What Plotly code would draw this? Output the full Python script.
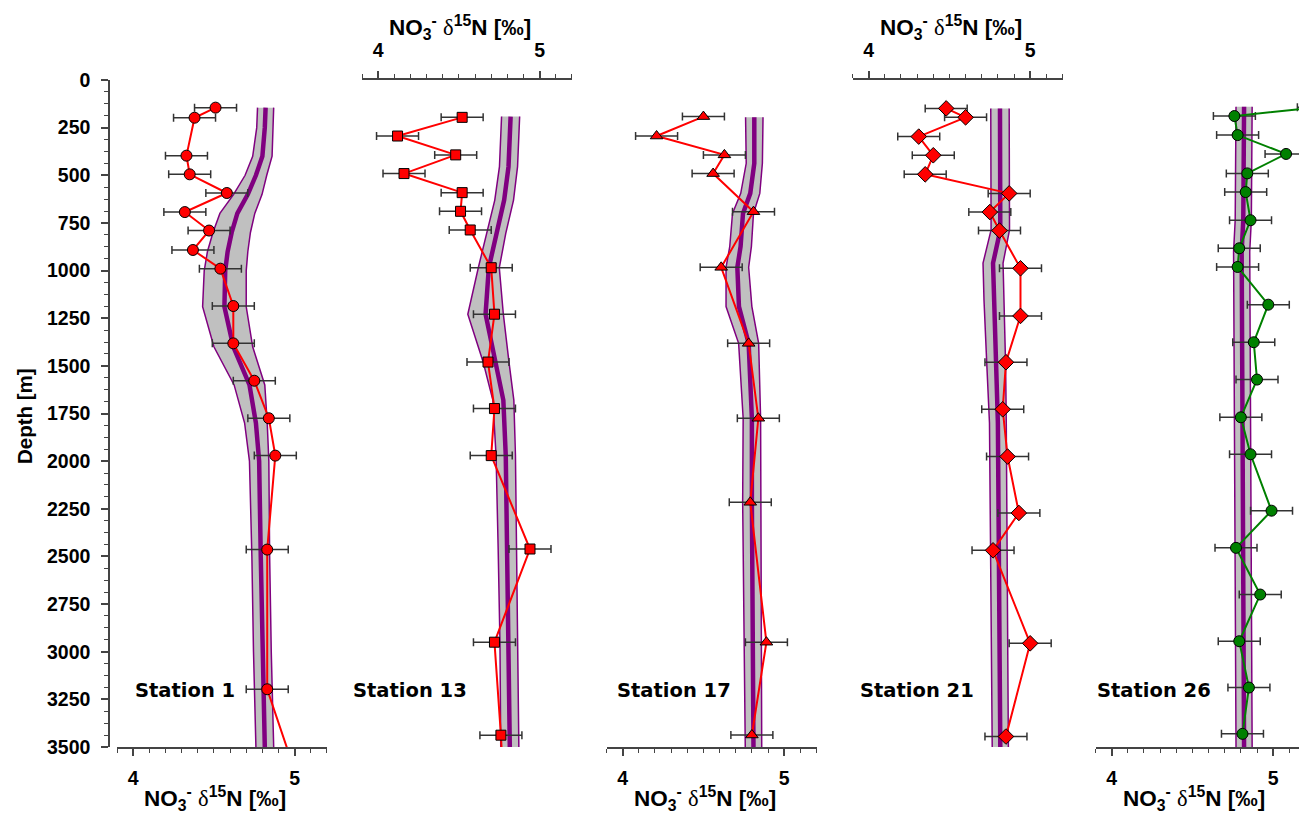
import plotly.graph_objects as go

# ---------------- data ----------------
ERR = 0.13  # +/- error on each measurement (permil)

st1_depth = [145, 198, 397, 495, 593, 693, 790, 892, 990, 1186, 1382, 1578, 1775, 1971, 2464, 3197, 3700]
st1_d15n = [4.51, 4.38, 4.33, 4.35, 4.58, 4.32, 4.47, 4.37, 4.54, 4.62, 4.62, 4.75, 4.84, 4.88, 4.83, 4.83, 5.03]
st1_band_depth = [145, 250, 400, 500, 600, 700, 800, 900, 1000, 1190, 1400, 1600, 1800, 2000, 2500, 3000, 3500]
st1_band_mid = [4.82, 4.815, 4.80, 4.76, 4.71, 4.645, 4.61, 4.585, 4.57, 4.565, 4.62, 4.72, 4.76, 4.78, 4.79, 4.80, 4.815]
st1_band_half = [0.05, 0.05, 0.06, 0.067, 0.088, 0.108, 0.116, 0.125, 0.13, 0.135, 0.12, 0.095, 0.07, 0.06, 0.055, 0.055, 0.055]

st13_depth = [196, 294, 393, 491, 591, 689, 787, 985, 1229, 1480, 1724, 1971, 2461, 2950, 3438, 3600]
st13_d15n = [4.52, 4.12, 4.48, 4.16, 4.52, 4.51, 4.57, 4.70, 4.72, 4.68, 4.72, 4.70, 4.94, 4.72, 4.76, 4.77]
st13_band_depth = [192, 455, 630, 805, 985, 1229, 1480, 1680, 1971, 2461, 2950, 3500]
st13_band_mid = [4.82, 4.807, 4.78, 4.73, 4.685, 4.665, 4.73, 4.775, 4.79, 4.80, 4.81, 4.815]
st13_band_half = [0.056, 0.056, 0.058, 0.06, 0.065, 0.11, 0.08, 0.065, 0.06, 0.057, 0.056, 0.056]

st17_depth = [192, 294, 393, 491, 691, 983, 1382, 1775, 2216, 2950, 3437]
st17_d15n = [4.50, 4.21, 4.63, 4.56, 4.81, 4.61, 4.78, 4.84, 4.79, 4.89, 4.80]
st17_band_depth = [196, 437, 595, 700, 874, 983, 1189, 1382, 1775, 2217, 3500]
st17_band_mid = [4.815, 4.815, 4.79, 4.745, 4.73, 4.71, 4.72, 4.78, 4.80, 4.80, 4.81]
st17_band_half = [0.054, 0.05, 0.059, 0.065, 0.067, 0.07, 0.08, 0.062, 0.054, 0.057, 0.051]

st21_depth = [149, 196, 297, 395, 495, 595, 693, 790, 988, 1238, 1481, 1728, 1976, 2272, 2468, 2956, 3445]
st21_d15n = [4.48, 4.60, 4.31, 4.40, 4.35, 4.87, 4.75, 4.81, 4.94, 4.94, 4.85, 4.83, 4.86, 4.93, 4.77, 5.00, 4.85]
st21_band_depth = [149, 787, 961, 1154, 1504, 1800, 3500]
st21_band_mid = [4.813, 4.815, 4.77, 4.776, 4.79, 4.80, 4.815]
st21_band_half = [0.057, 0.057, 0.062, 0.062, 0.058, 0.052, 0.05]

st26_depth = [143, 189, 289, 388, 490, 588, 736, 883, 981, 1179, 1376, 1572, 1770, 1964, 2260, 2455, 2700, 2945, 3188, 3431]
st26_d15n = [5.28, 4.76, 4.78, 5.08, 4.84, 4.83, 4.86, 4.79, 4.78, 4.97, 4.88, 4.90, 4.80, 4.86, 4.99, 4.77, 4.92, 4.79, 4.85, 4.81]
st26_band_depth = [140, 735, 900, 1836, 3500]
st26_band_mid = [4.82, 4.815, 4.805, 4.81, 4.82]
st26_band_half = [0.05, 0.05, 0.05, 0.05, 0.05]

depth_ticks = list(range(0, 3501, 250))
x_ticks = [4, 5]

# ---------------- styling ----------------
W, H = 1299, 815
RED, GREEN, PURPLE, GREY_FILL, AX = "#ff0000", "#008000", "#800080", "#c0c0c0", "#444444"
SANS = "Liberation Sans, Arial, sans-serif"
VERD = "DejaVu Sans, Verdana, sans-serif"
Y_TOP, Y_BOT = 80, 747  # pixel rows of depth 0 and 3500

panels = [
    dict(label="Station 1", ax="x", depth=st1_depth, val=st1_d15n, bd=st1_band_depth, bm=st1_band_mid,
         bh=st1_band_half, sym="circle", size=11, color=RED, side="bottom", px=(117, 327), rmax=5.2, lx=133),
    dict(label="Station 13", ax="x2", depth=st13_depth, val=st13_d15n, bd=st13_band_depth, bm=st13_band_mid,
         bh=st13_band_half, sym="square", size=10, color=RED, side="top", px=(362, 572), rmax=5.2, lx=351),
    dict(label="Station 17", ax="x3", depth=st17_depth, val=st17_d15n, bd=st17_band_depth, bm=st17_band_mid,
         bh=st17_band_half, sym="triangle-up", size=11, color=RED, side="bottom", px=(606.5, 816.5), rmax=5.2, lx=615),
    dict(label="Station 21", ax="x4", depth=st21_depth, val=st21_d15n, bd=st21_band_depth, bm=st21_band_mid,
         bh=st21_band_half, sym="diamond", size=12, color=RED, side="top", px=(852.5, 1062.5), rmax=5.2, lx=858),
    dict(label="Station 26", ax="x5", depth=st26_depth, val=st26_d15n, bd=st26_band_depth, bm=st26_band_mid,
         bh=st26_band_half, sym="circle", size=11, color=GREEN, side="bottom", px=(1095.5, 1299), rmax=5.16, lx=1095),
]

fig = go.Figure()
layout_axes = {}
annotations = []

title_html = ("NO<sub>3</sub><sup>-</sup> "
              "<span style='font-family:Liberation Serif;font-weight:normal'>δ</span>"
              "<sup>15</sup>N [‰]")

for p in panels:
    left = [m - h for m, h in zip(p["bm"], p["bh"])]
    right = [m + h for m, h in zip(p["bm"], p["bh"])]
    common = dict(xaxis=p["ax"], yaxis="y", showlegend=False, hoverinfo="skip")
    fig.add_trace(go.Scatter(x=left + right[::-1], y=p["bd"] + p["bd"][::-1], mode="lines", fill="toself",
                             fillcolor=GREY_FILL, line=dict(width=0), **common))
    fig.add_trace(go.Scatter(x=left, y=p["bd"], mode="lines", line=dict(color=PURPLE, width=1.5), **common))
    fig.add_trace(go.Scatter(x=right, y=p["bd"], mode="lines", line=dict(color=PURPLE, width=1.5), **common))
    fig.add_trace(go.Scatter(x=p["bm"], y=p["bd"], mode="lines", line=dict(color=PURPLE, width=4.5), **common))
    fig.add_trace(go.Scatter(
        x=p["val"], y=p["depth"], mode="lines+markers",
        line=dict(color=p["color"], width=2),
        marker=dict(symbol=p["sym"], size=p["size"], color=p["color"], line=dict(color="black", width=1)),
        error_x=dict(type="constant", value=ERR, color="#333333", thickness=1.5, width=4),
        xaxis=p["ax"], yaxis="y", showlegend=False))

    key = "xaxis" if p["ax"] == "x" else "xaxis" + p["ax"][1:]
    layout_axes[key] = dict(
        domain=[p["px"][0] / W, p["px"][1] / W], range=[3.8999, p["rmax"] + 0.0001],
        anchor="y", side=p["side"], showgrid=False, zeroline=False,
        showline=True, linecolor=AX, linewidth=1.5,
        ticks="outside", ticklen=7, tickwidth=1.5, tickcolor=AX,
        tickmode="array", tickvals=x_ticks, ticktext=[str(t) for t in x_ticks],
        tickfont=dict(family=SANS, size=19.5, color="black", weight="bold"),
        ticklabelstandoff=6,
        minor=dict(dtick=0.1, tick0=3.9, ticklen=4, tickwidth=1.2, tickcolor=AX, ticks="outside", showgrid=False),
        automargin=False, fixedrange=True,
    )
    # axis title
    cx = (p["px"][0] + 210 / 2 - 7) / W
    if p["side"] == "bottom":
        ty = 1 - 798 / H
    else:
        ty = 1 - 27 / H
    annotations.append(dict(text=title_html, x=cx, y=ty, xref="paper", yref="paper", xanchor="center",
                            yanchor="middle", showarrow=False,
                            font=dict(family=SANS, size=22.5, color="black", weight="bold")))
    annotations.append(dict(text=p["label"], x=p["lx"] / W, y=1 - 690 / H, xref="paper", yref="paper",
                            xanchor="left", yanchor="middle", showarrow=False,
                            font=dict(family=VERD, size=19.5, color="black", weight="bold")))

annotations.append(dict(text="Depth [m]", x=24 / W, y=1 - 416 / H, xref="paper", yref="paper",
                        xanchor="center", yanchor="middle", textangle=-90, showarrow=False,
                        font=dict(family=SANS, size=20.5, color="black", weight="bold")))

fig.update_layout(
    width=W, height=H, template="none",
    margin=dict(l=0, r=0, t=0, b=0, pad=0),
    paper_bgcolor="white", plot_bgcolor="rgba(0,0,0,0)",
    showlegend=False,
    yaxis=dict(
        domain=[1 - Y_BOT / H, 1 - Y_TOP / H], range=[3500, 0], anchor="free", position=109 / W,
        showgrid=False, zeroline=False, showline=True, linecolor=AX, linewidth=1.5,
        ticks="outside", ticklen=7, tickwidth=1.5, tickcolor=AX,
        tickmode="array", tickvals=depth_ticks, ticktext=[str(t) for t in depth_ticks],
        tickfont=dict(family=SANS, size=19.5, color="black", weight="bold"),
        ticklabelstandoff=7,
        minor=dict(dtick=62.5, tick0=0, ticklen=4, tickwidth=1.2, tickcolor=AX, ticks="outside", showgrid=False),
        automargin=False, fixedrange=True,
    ),
    annotations=annotations,
    **layout_axes,
)

fig.write_html("out.html", config={"displayModeBar": False},
               post_script="document.body.style.margin='0';document.body.style.overflow='hidden';")
